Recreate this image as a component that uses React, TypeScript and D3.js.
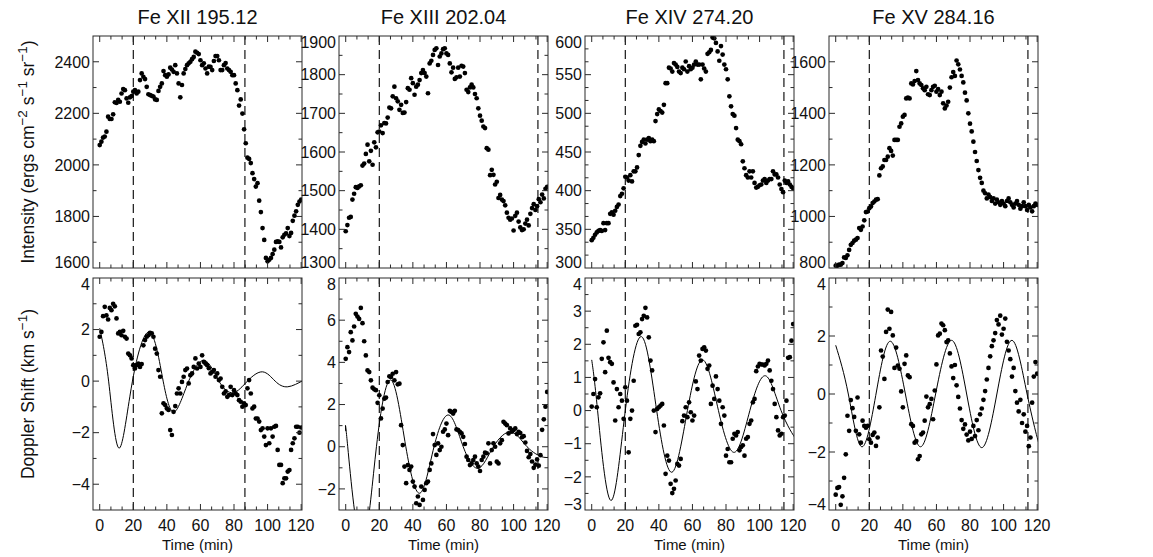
import React from "react";
import * as d3 from "d3";

// ---------------- DATA ----------------
const TITLES = ["Fe XII 195.12", "Fe XIII 202.04", "Fe XIV 274.20", "Fe XV 284.16"];
const CADENCE_MIN = 1; // one sample per minute, t = 0 … 120 min
const X_TICKS = [0, 20, 40, 60, 80, 100, 120];
const X_MINOR_STEP = 20 / 3;
const X_DOMAIN: [number, number] = [-4, 120.5];

const INT_FE12 = [
  2077, 2090, 2106, 2110, 2129, 2187, 2178, 2178, 2196, 2243,
  2240, 2252, 2245, 2277, 2294, 2290, 2258, 2241, 2262, 2267,
  2284, 2290, 2277, 2284, 2329, 2355, 2342, 2333, 2303, 2274,
  2271, 2268, 2265, 2254, 2252, 2287, 2303, 2316, 2364, 2348,
  2342, 2351, 2377, 2370, 2361, 2387, 2355, 2316, 2262, 2310,
  2355, 2372, 2387, 2394, 2400, 2410, 2419, 2439, 2435, 2430,
  2406, 2387, 2394, 2374, 2355, 2381, 2380, 2368, 2403, 2422,
  2422, 2406, 2368, 2368, 2387, 2395, 2374, 2368, 2361, 2348,
  2348, 2316, 2290, 2230, 2254, 2199, 2138, 2084, 2028, 2023,
  2007, 1968, 1945, 1916, 1929, 1861, 1817, 1755, 1709, 1639,
  1626, 1632, 1639, 1654, 1671, 1701, 1703, 1701, 1680, 1719,
  1729, 1734, 1755, 1724, 1736, 1783, 1803, 1820, 1845, 1858,
  1865,
];
const VEL_FE12 = [
  1.72, 1.91, 2.52, 2.88, 2.55, 2.39, 2.84, 2.75, 3.0, 2.9,
  2.43, 1.85, 1.91, 1.78, 1.95, 1.72, 1.65, 1.07, 1.0, 0.88,
  0.62, 0.49, 0.62, 0.68, 0.55, 0.66, 1.39, 1.59, 1.72, 1.78,
  1.87, 1.85, 1.72, 1.26, 1.07, 0.43, 0.17, -1.25, -0.86, -0.93,
  -1.06, -1.12, -1.9, -2.09, -1.19, -0.97, -0.48, -0.28, -0.48, -0.03,
  0.17, 0.43, 0.49, -0.09, 0.23, 0.3, 0.55, 0.88, 0.49, 0.68,
  0.55, 1.0, 0.75, 0.68, 0.62, 0.5, 0.3, 0.36, 0.43, 0.17,
  0.3, 0.04, 0.1, -0.22, -0.48, -0.4, -0.61, -0.54, -0.22, -0.54,
  -0.35, -0.48, -0.54, -0.74, -0.8, -0.99, -0.86, -0.93, -0.28, 0.04,
  -0.48, -1.06, -0.99, -1.45, -1.45, -1.57, -1.9, -1.83, -2.15, -2.48,
  -1.83, -2.41, -1.83, -2.15, -1.77, -1.74, -2.67, -3.25, -3.25, -3.96,
  -3.77, -3.77, -3.51, -3.45, -2.67, -2.41, -2.22, -1.77, -1.77, -2.0,
  -1.8,
];
const FIT_FE12 = [
  [0, 2.05], [5.3, 0], [11.5, -2.6], [19.5, 0], [29.8, 1.9], [37.8, 0],
  [44.5, -1.19], [53, 0], [62.5, 0.8], [71, 0], [79.5, -0.45], [88, 0],
  [97, 0.36], [104.5, 0], [112, -0.22], [120.5, 0], [124, 0.1],
];

const INT_FE13 = [
  1395, 1411, 1430, 1432, 1477, 1492, 1509, 1507, 1511, 1514,
  1565, 1570, 1595, 1619, 1576, 1603, 1567, 1625, 1612, 1651,
  1653, 1669, 1649, 1675, 1674, 1689, 1715, 1713, 1744, 1769,
  1739, 1731, 1709, 1722, 1701, 1702, 1729, 1765, 1761, 1791,
  1778, 1748, 1769, 1774, 1786, 1804, 1812, 1804, 1795, 1752,
  1829, 1836, 1851, 1864, 1868, 1825, 1847, 1855, 1866, 1868,
  1855, 1851, 1829, 1806, 1818, 1789, 1793, 1818, 1795, 1823,
  1821, 1804, 1761, 1755, 1767, 1774, 1767, 1750, 1739, 1713,
  1694, 1681, 1666, 1662, 1610, 1606, 1540, 1554, 1541, 1516,
  1523, 1481, 1489, 1477, 1473, 1462, 1443, 1430, 1425, 1428,
  1397, 1435, 1443, 1420, 1405, 1398, 1400, 1415, 1425, 1410,
  1440, 1455, 1465, 1450, 1460, 1478, 1470, 1490, 1480, 1505,
  1510,
];
const VEL_FE13 = [
  4.17, 4.72, 4.49, 5.43, 5.04, 5.7, 6.3, 6.17, 6.06, 6.58,
  5.86, 5.0, 4.33, 3.62, 3.54, 3.15, 2.8, 2.72, 2.68, 2.08,
  2.44, 1.34, 1.81, 2.28, 2.33, 3.07, 3.34, 3.31, 3.46, 3.15,
  3.54, 2.96, 2.99, 1.02, 0.08, -0.94, -1.73, -0.87, -1.1, -0.94,
  -1.65, -1.89, -2.68, -2.36, -2.76, -1.89, -2.52, -2.05, -1.73, -1.65,
  -1.1, -0.79, 0.6, 0.08, -0.39, 0.16, -0.16, 0.0, 0.71, 0.82,
  1.1, 0.55, 1.7, 1.65, 1.57, 1.7, 0.82, 0.79, 0.71, 0.63,
  0.47, 0.13, -0.47, -0.63, -0.87, -0.79, -0.63, -0.47, -0.79, -0.94,
  -1.15, -0.63, -0.47, -0.28, -0.31, 0.16, -0.79, -0.16, 0.16, 0.0,
  -0.71, -0.79, 0.16, 0.31, 1.18, 1.1, 1.02, 0.63, 0.87, 0.71,
  0.79, 0.87, 0.6, 0.7, 0.65, 0.45, 0.5, 0.2, -0.2, -0.5,
  -0.35, -0.7, -1.0, -0.85, -0.6, -0.9, -0.4, 0.8, 1.3, 1.9,
  2.6,
];
const FIT_FE13 = [
  [0, 0.74], [1.2, 0], [9.5, -4.6], [18.3, 0], [27.2, 3.15], [35.8, 0],
  [44.3, -2.2], [52.6, 0], [61.5, 1.5], [70, 0], [79, -1.02], [88, 0],
  [98.5, 0.7], [108, 0], [118, -0.5], [124, -0.38],
];

const INT_FE14 = [
  336, 339, 343, 346, 348, 349, 348, 358, 349, 358,
  358, 370, 372, 369, 374, 379, 382, 393, 396, 403,
  418, 417, 413, 420, 412, 425, 425, 430, 446, 458,
  463, 466, 461, 466, 468, 464, 466, 464, 490, 499,
  505, 503, 501, 511, 539, 539, 559, 558, 554, 565,
  563, 560, 554, 552, 559, 557, 567, 554, 561, 557,
  559, 563, 567, 563, 563, 544, 563, 558, 554, 577,
  579, 582, 598, 597, 591, 580, 568, 587, 576, 563,
  557, 544, 522, 509, 499, 497, 481, 466, 464, 460,
  438, 429, 420, 417, 425, 417, 425, 410, 404, 405,
  407, 408, 413, 415, 410, 413, 415, 415, 425, 421,
  421, 417, 408, 402, 398, 413, 410, 412, 408, 405,
  403,
];
const VEL_FE14 = [
  0.12, 0.5, 0.95, 0.1, 0.4, 0.52, 1.56, 2.06, 1.16, 2.41,
  1.59, 1.46, 1.41, 0.85, -0.3, 0.65, 0.1, 0.5, 0.3, -0.25,
  0.7, 0.3, -1.26, -0.25, 0.0, 0.9, 2.56, 2.59, 2.31, 2.36,
  2.76, 2.86, 3.1, 2.81, 2.21, 1.51, 1.21, 0.0, -0.65, 0.05,
  0.1, 0.15, 0.2, -0.45, -1.91, -1.36, -1.51, -2.21, -2.49, -2.36,
  -2.11, -1.61, -1.66, -1.46, -0.32, -0.15, 0.1, -0.2, 0.25, -0.05,
  -0.3, -0.15, 0.88, 0.65, 1.66, 1.51, 1.86, 1.91, 1.81, 1.26,
  1.36, 0.2, 0.75, 0.35, 1.03, 0.65, 0.3, -0.4, 0.1, -0.15,
  -1.36, -1.16, -1.56, -1.56, -0.85, -0.7, -0.75, -0.65, -1.2, -1.1,
  -1.05, -1.36, -0.85, -0.8, -0.4, -0.3, 0.25, 0.35, 1.19, 1.33,
  1.41, 1.39, 1.39, 1.36, 1.41, 1.51, 1.21, 0.9, 0.65, 0.2,
  -0.2, -0.6, -0.75, -0.7, -0.2, -0.15, 0.3, 1.59, 1.61, 2.11,
  2.61,
];
const FIT_FE14 = [
  [0, 1.53], [3.5, 0], [11.3, -2.71], [20, 0], [29.7, 2.23], [38.7, 0],
  [47.8, -1.86], [57, 0], [66.2, 1.53], [75.5, 0], [85, -1.26], [94.2, 0],
  [103.5, 1.05], [112.8, 0], [122, -0.88], [124, -0.87],
];

const INT_FE15 = [
  809, 809, 813, 813, 819, 841, 839, 849, 870, 890,
  897, 906, 910, 916, 955, 948, 961, 985, 1017, 1019,
  1032, 1039, 1052, 1058, 1065, 1067, 1159, 1187, 1194, 1219,
  1219, 1232, 1265, 1254, 1236, 1297, 1297, 1297, 1348, 1361,
  1387, 1394, 1458, 1461, 1458, 1516, 1512, 1525, 1564, 1529,
  1516, 1510, 1497, 1490, 1503, 1474, 1471, 1490, 1503, 1507,
  1484, 1494, 1471, 1484, 1439, 1419, 1430, 1445, 1500, 1540,
  1560, 1545, 1605, 1590, 1570, 1545, 1520, 1480, 1450, 1400,
  1360, 1330, 1290, 1250, 1215, 1180, 1150, 1130, 1100, 1090,
  1070, 1085, 1075, 1060, 1070, 1050, 1065, 1055, 1045, 1060,
  1050, 1040, 1060, 1070, 1055, 1045, 1035, 1050, 1060, 1045,
  1030, 1040, 1055, 1040, 1025, 1045, 1035, 1020, 1040, 1050,
  1045,
];
const VEL_FE15 = [
  -3.47, -3.24, -3.21, -3.82, -3.53, -2.89, -2.08, -0.75, -1.27, -0.21,
  -0.49, -0.79, -1.27, -0.12, -1.39, -1.68, -0.92, -1.1, -1.16, -1.1,
  -1.56, -1.68, -1.41, -1.33, -1.79, -1.5, -0.46, 1.5, 1.29, 0.52,
  2.14, 2.91, 2.25, 2.83, 2.02, 0.9, 1.6, 0.98, 0.87, 0.09,
  -0.46, 1.04, 1.33, 0.64, 0.58, -1.04, -1.1, -1.68, -1.62, -2.25,
  -2.14, -1.39, -1.33, -0.92, -0.09, -0.46, -0.35, -0.17, -0.87, 0.12,
  1.02, 2.02, 2.08, 2.43, 2.37, 2.2, 1.79, 1.85, 1.4, 0.95,
  0.55, 1.0, 0.3, -0.1, -0.5, -0.9, -1.2, -1.05, -1.4, -1.6,
  -1.3, -1.55, -1.1, -1.45, -0.9, -1.25, -0.7, -0.5, -0.2, 0.1,
  0.5, 0.9, 1.3, 1.65, 1.85, 2.1, 2.55, 2.4, 2.7, 2.05,
  2.25, 2.6, 1.8, 1.5, 1.2, 0.6, 0.9, 0.1, -0.3, -0.6,
  -0.2, -1.0, -0.7, -1.3, -1.1, -1.8, -1.5, -0.3, 0.6, 1.1,
  0.7,
];
const FIT_FE15 = [
  [0, 1.68], [7.5, 0], [15.5, -1.82], [24, 0], [32.5, 1.82], [41.5, 0],
  [50.5, -1.82], [59.5, 0], [69, 1.85], [78, 0], [87, -1.85], [96, 0],
  [105, 1.85], [114, 0], [122, -1.9], [124, -1.88],
];

const INT_DOMAINS = [[1600, 2500], [1300, 1900], [300, 600], [800, 1700]];
const INT_TICKS = [
  [1600, 1800, 2000, 2200, 2400],
  [1300, 1400, 1500, 1600, 1700, 1800, 1900],
  [300, 350, 400, 450, 500, 550, 600],
  [800, 1000, 1200, 1400, 1600],
];
const INT_MINOR = [100, 50, 50 / 3, 100];
const VEL_DOMAINS = [[-5, 4], [-3, 8], [-3, 4], [-4, 4]];
const VEL_TICKS = [
  [-4, -2, 0, 2, 4],
  [-2, 0, 2, 4, 6, 8],
  [-3, -2, -1, 0, 1, 2, 3, 4],
  [-4, -2, 0, 2, 4],
];
const VEL_MINOR = [1, 1, 0.5, 1];
const DASH_TIMES = [[20, 86.5], [20, 114.5], [20, 114.5], [20, 114.5]];

const INTENSITY = [INT_FE12, INT_FE13, INT_FE14, INT_FE15];
const VELOCITY = [VEL_FE12, VEL_FE13, VEL_FE14, VEL_FE15];
const FITS = [FIT_FE12, FIT_FE13, FIT_FE14, FIT_FE15];

// ---------------- LAYOUT ----------------
const W = 1153;
const H = 557;
const COL_X = [93, 339, 585, 829];
const PW = 209;
const ROW_Y = [36, 278];
const PH = 232;
const FONT = "'Liberation Sans', Arial, Helvetica, sans-serif";
const AXIS_COLOR = "#2a2a2a";
const TICK_FS = 16;

function fmt(v: number) {
  return v < 0 ? "\u2212" + Math.abs(v) : String(v);
}

function Panel(props: {
  id: string;
  left: number;
  top: number;
  values: number[];
  yDomain: number[];
  yTicks: number[];
  yMinor: number;
  fit?: number[][];
  dashes: number[];
  showX: boolean;
}) {
  const { id, left, top, values, yDomain, yTicks, yMinor, fit, dashes, showX } = props;
  const x = d3.scaleLinear().domain(X_DOMAIN).range([left, left + PW]);
  const y = d3.scaleLinear().domain(yDomain).range([top + PH, top]);
  const bottom = top + PH;
  const right = left + PW;

  const xMinor = d3.range(0, X_DOMAIN[1] + 1e-6, X_MINOR_STEP).filter((t) => t > X_DOMAIN[0]);
  const yMinorTicks = d3
    .range(Math.ceil(yDomain[0] / yMinor - 1e-6) * yMinor, yDomain[1] + 1e-6, yMinor)
    .filter((v) => v > yDomain[0] + 1e-6 && v < yDomain[1] - 1e-6);
  const isMajorX = (t: number) => X_TICKS.some((m) => Math.abs(m - t) < 1e-6);
  const isMajorY = (v: number) => yTicks.some((m) => Math.abs(m - v) < 1e-6);

  const pts = values.map((v, i) => [i * CADENCE_MIN, v]);
  const line = d3
    .line<number[]>()
    .x((d) => x(d[0]))
    .y((d) => y(d[1]))
    .curve(d3.curveNatural);

  const minorLen = 3.5;
  const majorLen = 6;

  return (
    <g>
      <defs>
        <clipPath id={id}>
          <rect x={left} y={top} width={PW} height={PH} />
        </clipPath>
      </defs>
      {dashes.map((t, i) => (
        <line
          key={"d" + i}
          x1={x(t)}
          x2={x(t)}
          y1={top}
          y2={bottom}
          stroke="#000"
          strokeWidth={1.1}
          strokeDasharray="9 5"
        />
      ))}
      {fit && (
        <path d={line(fit) || ""} fill="none" stroke="#000" strokeWidth={1} clipPath={`url(#${id})`} />
      )}
      <g clipPath={`url(#${id})`}>
        {pts.map((p, i) => (
          <circle key={i} cx={x(p[0])} cy={y(p[1])} r={2.35} fill="#000" />
        ))}
      </g>
      <rect x={left} y={top} width={PW} height={PH} fill="none" stroke={AXIS_COLOR} strokeWidth={1} />
      {xMinor.map((t, i) => {
        const len = isMajorX(t) ? majorLen : minorLen;
        return (
          <g key={"xt" + i}>
            <line x1={x(t)} x2={x(t)} y1={bottom} y2={bottom - len} stroke={AXIS_COLOR} strokeWidth={1} />
            <line x1={x(t)} x2={x(t)} y1={top} y2={top + len} stroke={AXIS_COLOR} strokeWidth={1} />
          </g>
        );
      })}
      {yMinorTicks.map((v, i) => {
        const len = isMajorY(v) ? majorLen : minorLen;
        return (
          <g key={"yt" + i}>
            <line x1={left} x2={left + len} y1={y(v)} y2={y(v)} stroke={AXIS_COLOR} strokeWidth={1} />
            <line x1={right} x2={right - len} y1={y(v)} y2={y(v)} stroke={AXIS_COLOR} strokeWidth={1} />
          </g>
        );
      })}
      {yTicks.map((v, i) => {
        const py = Math.min(Math.max(y(v), top + 6), bottom - 6);
        return (
          <text
            key={"yl" + i}
            x={left - 3}
            y={py}
            dy="0.36em"
            textAnchor="end"
            fontSize={TICK_FS}
            fontFamily={FONT}
            fill="#111"
          >
            {fmt(v)}
          </text>
        );
      })}
      {showX &&
        X_TICKS.map((t, i) => (
          <text
            key={"xl" + i}
            x={x(t)}
            y={bottom + 21}
            textAnchor="middle"
            fontSize={TICK_FS}
            fontFamily={FONT}
            fill="#111"
          >
            {t}
          </text>
        ))}
      {showX && (
        <text
          x={(left + right) / 2}
          y={bottom + 40}
          textAnchor="middle"
          fontSize={15}
          fontFamily={FONT}
          fill="#111"
        >
          Time (min)
        </text>
      )}
    </g>
  );
}

export default function App() {
  return (
    <svg
      width={W}
      height={H}
      viewBox={`0 0 ${W} ${H}`}
      style={{ position: "absolute", left: 0, top: 0, background: "#fff" }}
    >
      <rect x={0} y={0} width={W} height={H} fill="#fff" />
      {TITLES.map((t, c) => (
        <text
          key={"t" + c}
          x={COL_X[c] + PW / 2}
          y={24}
          textAnchor="middle"
          fontSize={20}
          fontFamily={FONT}
          fill="#111"
        >
          {t}
        </text>
      ))}
      {TITLES.map((_, c) => (
        <Panel
          key={"i" + c}
          id={"clipI" + c}
          left={COL_X[c]}
          top={ROW_Y[0]}
          values={INTENSITY[c]}
          yDomain={INT_DOMAINS[c]}
          yTicks={INT_TICKS[c]}
          yMinor={INT_MINOR[c]}
          dashes={DASH_TIMES[c]}
          showX={false}
        />
      ))}
      {TITLES.map((_, c) => (
        <Panel
          key={"v" + c}
          id={"clipV" + c}
          left={COL_X[c]}
          top={ROW_Y[1]}
          values={VELOCITY[c]}
          yDomain={VEL_DOMAINS[c]}
          yTicks={VEL_TICKS[c]}
          yMinor={VEL_MINOR[c]}
          fit={FITS[c]}
          dashes={DASH_TIMES[c]}
          showX={true}
        />
      ))}
      <text
        transform={`translate(34, ${ROW_Y[0] + PH / 2}) rotate(-90)`}
        textAnchor="middle"
        fontSize={17.5}
        fontFamily={FONT}
        fill="#111"
      >
        Intensity (ergs cm
        <tspan dy={-7} fontSize={13.5}>{"\u22122"}</tspan>
        <tspan dy={7}> s</tspan>
        <tspan dy={-7} fontSize={13.5}>{"\u22121"}</tspan>
        <tspan dy={7}> sr</tspan>
        <tspan dy={-7} fontSize={13.5}>{"\u22121"}</tspan>
        <tspan dy={7}>)</tspan>
      </text>
      <text
        transform={`translate(34, ${ROW_Y[1] + PH / 2}) rotate(-90)`}
        textAnchor="middle"
        fontSize={17.5}
        fontFamily={FONT}
        fill="#111"
      >
        Doppler Shift (km s
        <tspan dy={-7} fontSize={13.5}>{"\u22121"}</tspan>
        <tspan dy={7}>)</tspan>
      </text>
    </svg>
  );
}
